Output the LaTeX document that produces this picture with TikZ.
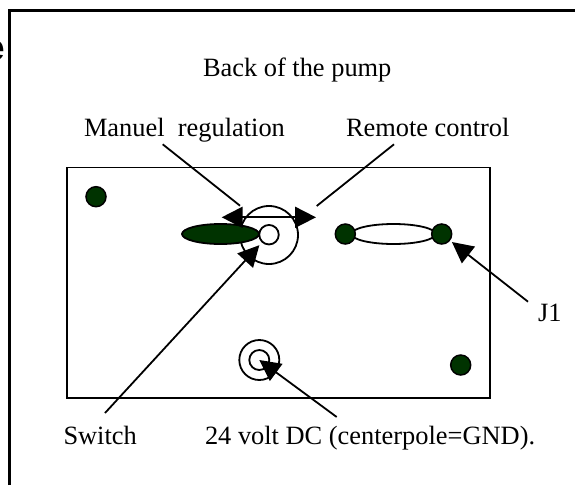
\documentclass[tikz,border=0pt]{standalone}
\usepackage{fontspec}
\setmainfont{Liberation Serif}
\newfontfamily\cutfont{Liberation Sans}
\usetikzlibrary{arrows.meta, shapes.geometric}

\begin{document}
\begin{tikzpicture}
            [
                x=1pt, y=-1pt,
                every node/.style={inner sep=0pt, outer sep=0pt},
                label text/.style={anchor=base west, font=\fontsize{26.4}{30}\selectfont},
                pin dot/.style={circle, draw=black, line width=1.5pt, fill=pumpGreen, minimum size=20pt},
                open circle/.style={circle, draw=black, line width=1.8pt, fill=white},
                pointer/.style={draw=black, line width=1.8pt, -{Triangle[length=21pt, width=21pt]}},
                plain line/.style={draw=black, line width=1.8pt}
            ]
            \definecolor{pumpGreen}{rgb}{0, 0.2, 0}
            \useasboundingbox (0, 0) rectangle (575, 485);

            % frame and pump body
            \node (cutoff) [anchor=base east, font=\cutfont\bfseries\fontsize{37}{40}\selectfont] at (5.5, 60) {e};
            \draw [line width=2.2pt] (9.5, 485) -- (9.5, 10.5) -- (575, 10.5);
            \node (body) [draw=black, line width=1.8pt, minimum width=423.5pt, minimum height=230.5pt] at (278.4, 282.8) {};

            % pins
            \node (pinTopLeft) [pin dot] at (96, 196.7) {};
            \node (pinBottomRight) [pin dot] at (460.7, 365) {};
            \node (fuseLink) [ellipse, draw=black, line width=1.8pt, fill=white, minimum width=84pt, minimum height=20pt] at (393.5, 234) {};
            \node (pinLeft) [pin dot] at (345.3, 234) {};
            \node (pinRight) [pin dot] at (441.7, 234) {};

            % regulator
            \node (knob) [open circle, minimum size=58pt] at (269, 235) {};
            \node (lever) [ellipse, draw=black, line width=1.8pt, fill=pumpGreen, minimum width=77pt, minimum height=20pt] at (220.5, 234) {};
            \node (hub) [open circle, minimum size=19.5pt] at (269, 234.7) {};

            % power jack
            \node (jack) [open circle, minimum size=40pt] at (259.3, 360) {};
            \node (jackCore) [open circle, minimum size=20pt] at (259.3, 360) {};

            % labels
            \node (title) [label text] at (203, 76) {Back of the pump};
            \node (manual) [label text] at (84, 136.7) {Manuel\ \ regulation};
            \node (remote) [label text] at (346, 136.7) {Remote control};
            \node (jOne) [label text] at (538, 321) {J1};
            \node (switch) [label text] at (63.5, 444) {Switch};
            \node (power) [label text] at (205, 444) {24 volt DC (centerpole=GND).};

            % connectors
            \coordinate (manualTail) at (162.7, 144.3);
            \coordinate (manualEnd) at (240, 205.7);
            \coordinate (remoteTail) at (394, 144.3);
            \coordinate (remoteEnd) at (316.7, 206);
            \coordinate (sweepLeft) at (221.7, 217.3);
            \coordinate (sweepRight) at (316, 217.3);
            \coordinate (switchTail) at (105, 413);
            \coordinate (powerTail) at (336.7, 417);
            \coordinate (jOneTail) at (528, 301.7);

            \draw [plain line] (manualTail) -- (manualEnd);
            \draw [plain line] (remoteTail) -- (remoteEnd);
            \draw [pointer, {Triangle[length=21pt, width=21pt]}-{Triangle[length=21pt, width=21pt]}] (sweepLeft) -- (sweepRight);
            \draw [pointer, shorten >=4.5pt] (switchTail) -- (hub);
            \draw [pointer] (powerTail) -- (jackCore.center);
            \draw [pointer, shorten >=3pt] (jOneTail) -- (pinRight);
        \end{tikzpicture}
\end{document}
